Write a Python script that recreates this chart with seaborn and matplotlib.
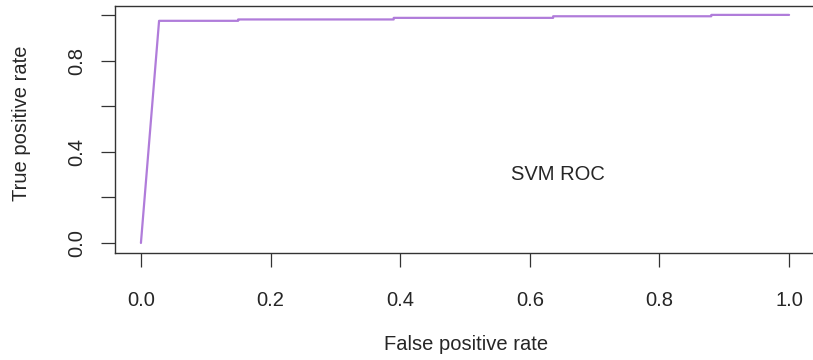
import matplotlib
matplotlib.use("Agg")
import matplotlib.pyplot as plt
import seaborn as sns
import pandas as pd

# ROC curve points
fpr = [0.0, 0.028, 0.15, 0.15, 0.39, 0.39, 0.636, 0.636, 0.88, 0.88, 1.0]
tpr = [0.0, 0.974, 0.974, 0.980, 0.980, 0.987, 0.987, 0.994, 0.994, 1.0, 1.0]
x_ticks = [0.0, 0.2, 0.4, 0.6, 0.8, 1.0]
x_tick_labels = ["0.0", "0.2", "0.4", "0.6", "0.8", "1.0"]
y_ticks = [0.0, 0.2, 0.4, 0.6, 0.8, 1.0]
y_tick_labels = ["0.0", "", "0.4", "", "0.8", ""]
annotation = "SVM ROC"

sns.set_style("white")
plt.rcParams["font.family"] = ["Liberation Sans", "DejaVu Sans"]

df = pd.DataFrame({"fpr": fpr, "tpr": tpr})

fig = plt.figure(figsize=(8.13, 3.6), dpi=100)
ax = fig.add_axes([115 / 813, (360 - 253) / 360, (815 - 115) / 813, (253 - 6) / 360])

sns.lineplot(data=df, x="fpr", y="tpr", ax=ax, estimator=None, sort=False,
             color="#B07CDA", linewidth=1.6)

ax.set_xlim(-0.04, 1.04)
ax.set_ylim(-0.044, 1.039)

txt_color = "#262626"
fs = 14.5
ax.set_xticks(x_ticks)
ax.set_xticklabels(x_tick_labels, fontsize=fs, color=txt_color)
ax.set_yticks(y_ticks)
ax.set_yticklabels(y_tick_labels, fontsize=fs, color=txt_color, rotation=90, va="center")
ax.tick_params(axis="both", which="both", direction="out", length=10, width=0.9,
               color="#333333", bottom=True, left=True)
ax.tick_params(axis="x", pad=17)
ax.tick_params(axis="y", pad=11)

for side in ["left", "bottom", "top", "right"]:
    ax.spines[side].set_visible(True)
    ax.spines[side].set_color("#333333")
    ax.spines[side].set_linewidth(1.0)

ax.set_xlabel("False positive rate", fontsize=fs, color=txt_color, va="center")
ax.set_ylabel("True positive rate", fontsize=fs, color=txt_color, va="center")
ax.xaxis.set_label_coords((466 - 115) / 700, -(345 - 253) / 247)
ax.yaxis.set_label_coords(-(115 - 22) / 700, (253 - 123) / 247)

ax.text(0.643, 0.30, annotation, fontsize=fs, color=txt_color, ha="center", va="center")

fig.savefig("out.png", dpi=100)
